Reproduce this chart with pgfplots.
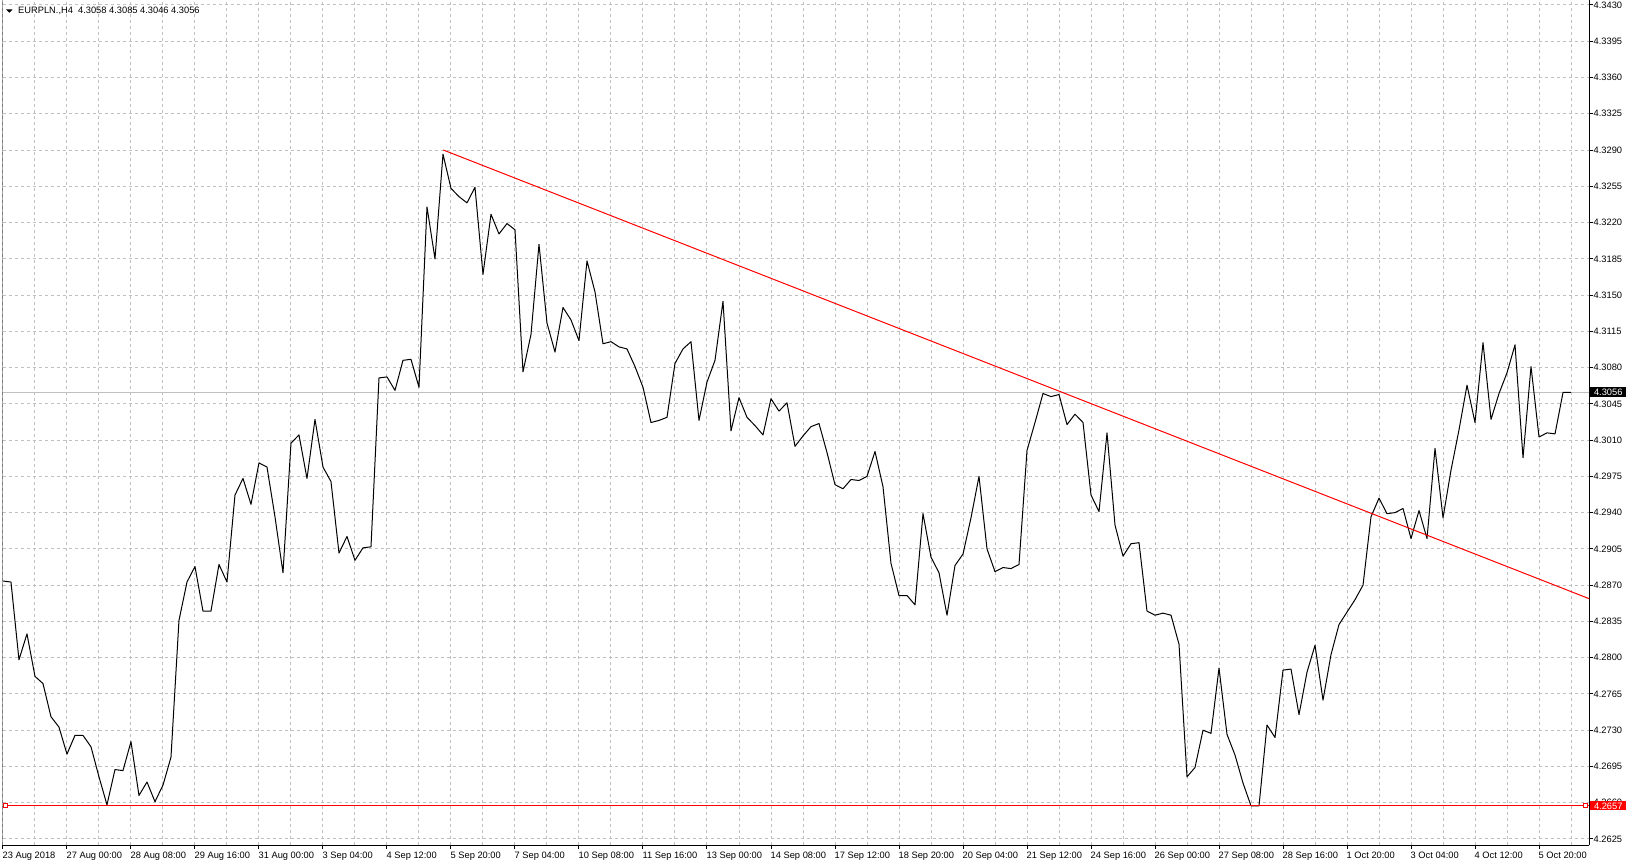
\documentclass[border=0pt]{standalone}
\usepackage{fontspec}
\setmainfont{Liberation Sans}
\usepackage{pgfplots}
\pgfplotsset{compat=1.18}
\usetikzlibrary{calc}
\definecolor{gridgray}{HTML}{C0C0C0}
\definecolor{mtred}{HTML}{FF0000}
\newcommand{\lblfont}{\fontsize{9.3pt}{11pt}\selectfont}

\begin{document}
\begin{tikzpicture}
\begin{axis}[
  name=ax,
  scale only axis,
  width=1586.5pt, height=845pt,
  xmin=-0.06, xmax=198.25,
  ymin=4.26192, ymax=4.34348,
  axis x line*=bottom,
  axis y line*=right,
  axis line style={black, line width=1pt},
  xtick={0,8,...,192},
  minor xtick={4,12,...,196},
  xticklabels={23 Aug 2018, 27 Aug 00:00, 28 Aug 08:00, 29 Aug 16:00, 31 Aug 00:00,
    3 Sep 04:00, 4 Sep 12:00, 5 Sep 20:00, 7 Sep 04:00, 10 Sep 08:00,
    11 Sep 16:00, 13 Sep 00:00, 14 Sep 08:00, 17 Sep 12:00, 18 Sep 20:00,
    20 Sep 04:00, 21 Sep 12:00, 24 Sep 16:00, 26 Sep 00:00, 27 Sep 08:00,
    28 Sep 16:00, 1 Oct 20:00, 3 Oct 04:00, 4 Oct 12:00, 5 Oct 20:00},
  ytick={4.2625,4.2660,4.2695,4.2730,4.2765,4.2800,4.2835,4.2870,4.2905,4.2940,
    4.2975,4.3010,4.3045,4.3080,4.3115,4.3150,4.3185,4.3220,4.3255,4.3290,
    4.3325,4.3360,4.3395,4.3430},
  tick align=outside,
  major tick length=3.5pt,
  minor tick length=0pt,
  tick style={black, line width=1pt},
  xmajorgrids, xminorgrids, ymajorgrids,
  grid style={gridgray, line width=1pt, dash pattern=on 3pt off 3pt},
  minor grid style={gridgray, line width=1pt, dash pattern=on 3pt off 3pt},
  tick label style={font=\lblfont, inner sep=0pt},
  xticklabel style={anchor=north west, xshift=-0.5pt, yshift=-3pt},
  yticklabel style={anchor=west, xshift=1pt,
    /pgf/number format/fixed, /pgf/number format/fixed zerofill,
    /pgf/number format/precision=4},
  /pgf/number format/assume math mode=true,
]
\draw[black, line width=1pt] (rel axis cs:0,0) -- (rel axis cs:0,1);

% bid line
\addplot[gridgray, line width=1pt] coordinates {(-0.06,4.3056) (198.25,4.3056)};

% EURPLN H4 close
\addplot[black, line width=1pt, line join=round] table {
i v
0 4.2874
1 4.2873
2 4.2798
3 4.2823
4 4.2782
5 4.2775
6 4.2743
7 4.2733
8 4.2707
9 4.2725
10 4.2725
11 4.2714
12 4.2685
13 4.2658
14 4.2692
15 4.2691
16 4.2719
17 4.2667
18 4.2680
19 4.2661
20 4.2677
21 4.2704
22 4.2836
23 4.2873
24 4.2888
25 4.2845
26 4.2845
27 4.2890
28 4.2873
29 4.2957
30 4.2973
31 4.2948
32 4.2988
33 4.2984
34 4.2936
35 4.2882
36 4.3007
37 4.3015
38 4.2973
39 4.3030
40 4.2984
41 4.2970
42 4.2901
43 4.2917
44 4.2894
45 4.2906
46 4.2907
47 4.3070
48 4.3071
49 4.3058
50 4.3087
51 4.3088
52 4.3061
53 4.3235
54 4.3185
55 4.3286
56 4.3253
57 4.3245
58 4.3239
59 4.3254
60 4.3170
61 4.3228
62 4.3209
63 4.3219
64 4.3213
65 4.3076
66 4.3112
67 4.3199
68 4.3123
69 4.3095
70 4.3138
71 4.3126
72 4.3106
73 4.3183
74 4.3153
75 4.3103
76 4.3105
77 4.3100
78 4.3098
79 4.3081
80 4.3061
81 4.3027
82 4.3029
83 4.3032
84 4.3084
85 4.3098
86 4.3105
87 4.3029
88 4.3066
89 4.3087
90 4.3144
91 4.3019
92 4.3051
93 4.3032
94 4.3024
95 4.3015
96 4.3050
97 4.3038
98 4.3046
99 4.3004
100 4.3014
101 4.3023
102 4.3026
103 4.2998
104 4.2967
105 4.2963
106 4.2972
107 4.2971
108 4.2975
109 4.2999
110 4.2965
111 4.2891
112 4.2860
113 4.2860
114 4.2851
115 4.2939
116 4.2897
117 4.2882
118 4.2841
119 4.2889
120 4.2900
121 4.2935
122 4.2975
123 4.2905
124 4.2883
125 4.2887
126 4.2886
127 4.2890
128 4.3000
129 4.3027
130 4.3055
131 4.3052
132 4.3054
133 4.3025
134 4.3035
135 4.3027
136 4.2957
137 4.2941
138 4.3017
139 4.2928
140 4.2898
141 4.2910
142 4.2911
143 4.2845
144 4.2841
145 4.2843
146 4.2841
147 4.2813
148 4.2685
149 4.2694
150 4.2730
151 4.2727
152 4.2790
153 4.2726
154 4.2706
155 4.2679
156 4.2657
157 4.2657
158 4.2735
159 4.2723
160 4.2788
161 4.2789
162 4.2745
163 4.2786
164 4.2812
165 4.2759
166 4.2803
167 4.2832
168 4.2844
169 4.2856
170 4.2870
171 4.2936
172 4.2954
173 4.2939
174 4.2940
175 4.2944
176 4.2915
177 4.2942
178 4.2915
179 4.3002
180 4.2935
181 4.2981
182 4.3020
183 4.3063
184 4.3027
185 4.3104
186 4.3030
187 4.3055
188 4.3075
189 4.3102
190 4.2993
191 4.3081
192 4.3013
193 4.3017
194 4.3016
195 4.3056
196 4.3056
};

% trend line and support level
\addplot[mtred, line width=1pt] coordinates {(55.04,4.3290) (198.25,4.2857)};
\addplot[mtred, line width=1pt] coordinates {(-0.06,4.2657) (198.25,4.2657)};
\addplot[mtred, only marks, mark=square*, mark size=2pt,
  mark options={fill=white, line width=1pt}] coordinates {(0.3,4.2657) (197.8,4.2657)};

\coordinate (bid) at (axis cs:198.25,4.3056);
\coordinate (sup) at (axis cs:198.25,4.2657);
\end{axis}

\node[fill=black, text=white, anchor=west, inner sep=0pt, minimum width=36pt,
  minimum height=10pt, font=\lblfont] at ($(bid)+(1pt,0)$) {4.3056};
\node[fill=mtred, text=white, anchor=west, inner sep=0pt, minimum width=36pt,
  minimum height=9pt, font=\lblfont] at ($(sup)+(1pt,0)$) {4.2657};

% chart caption
\fill[black] ($(ax.north west)+(3.5pt,-9.3pt)$) -- ++(6.7pt,0) -- ++(-3.35pt,-3.4pt) -- cycle;
\node[anchor=west, inner sep=0pt, font=\lblfont] at ($(ax.north west)+(15.5pt,-11pt)$)
  {EURPLN.,H4\ \ 4.3058 4.3085 4.3046 4.3056};

\pgfresetboundingbox
\path[use as bounding box] ($(ax.south west)+(-2.5pt,-21pt)$) rectangle ($(ax.north east)+(39pt,0pt)$);
\end{tikzpicture}
\end{document}
